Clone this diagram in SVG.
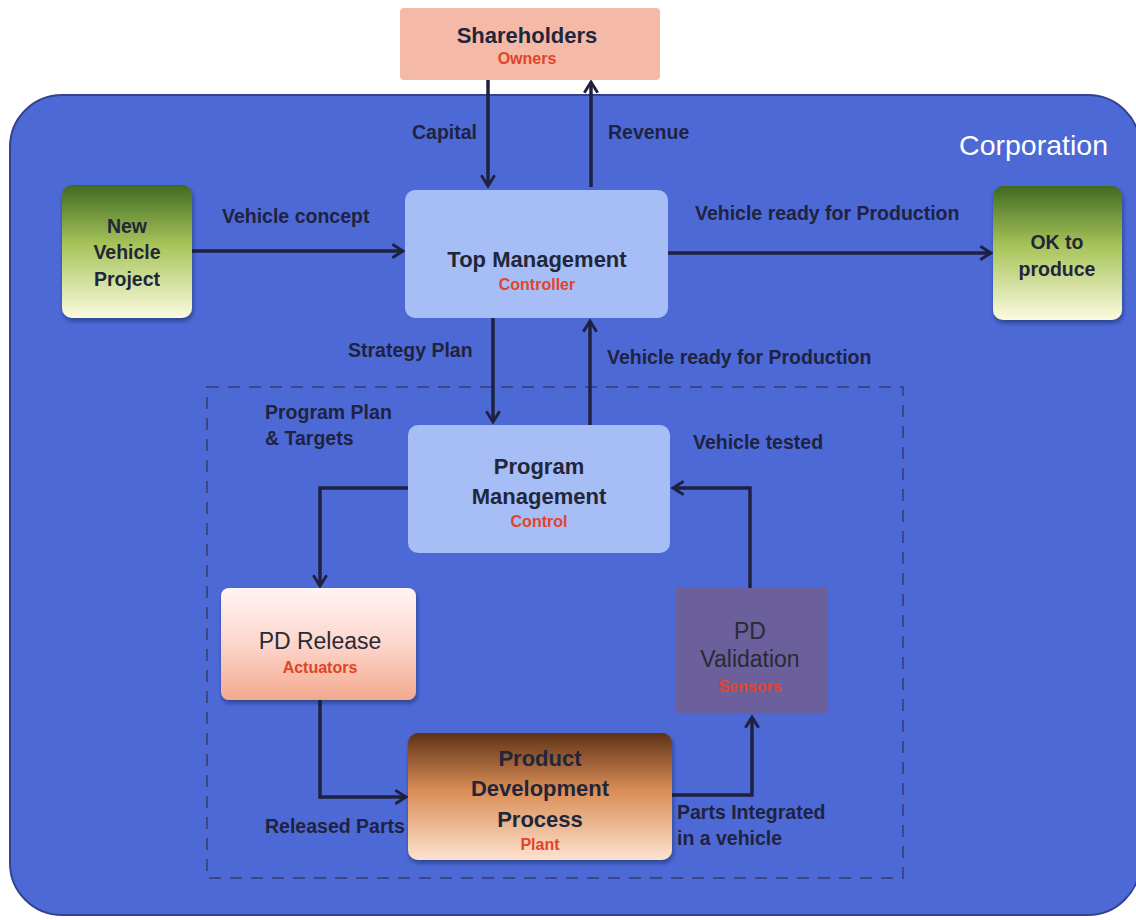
<svg xmlns="http://www.w3.org/2000/svg" width="1136" height="920" viewBox="0 0 1136 920">
  <defs>
    <style>
      .lbl { font-family: "Liberation Sans", Arial, sans-serif; font-weight: bold; font-size: 19.5px; fill: #1f2340; }
      .title { font-family: "Liberation Sans", Arial, sans-serif; font-weight: bold; font-size: 22px; fill: #22263a; text-anchor: middle; }
      .small { font-size: 19.5px; }
      .plain { font-family: "Liberation Sans", Arial, sans-serif; font-size: 23px; fill: #2a2a35; text-anchor: middle; }
      .sub { font-family: "Liberation Sans", Arial, sans-serif; font-weight: bold; font-size: 16px; fill: #e0452a; text-anchor: middle; }
      .conn { fill: none; stroke: #1e2240; stroke-width: 3.5; marker-end: url(#arr); }
    </style>
    <marker id="arr" viewBox="0 0 12 12" refX="10" refY="6" markerWidth="16" markerHeight="16" markerUnits="userSpaceOnUse" orient="auto">
      <path d="M2,1 L10,6 L2,11" fill="none" stroke="#1e2240" stroke-width="2.2" stroke-linejoin="miter"/>
    </marker>
    <linearGradient id="gGreen" x1="0" y1="0" x2="0" y2="1">
      <stop offset="0" stop-color="#3f6a22"/>
      <stop offset="0.45" stop-color="#a8c45a"/>
      <stop offset="1" stop-color="#fbfbe0"/>
    </linearGradient>
    <linearGradient id="gPink" x1="0" y1="0" x2="0" y2="1">
      <stop offset="0" stop-color="#fff4f4"/>
      <stop offset="0.5" stop-color="#fcd6cc"/>
      <stop offset="1" stop-color="#f4a98e"/>
    </linearGradient>
    <linearGradient id="gBrown" x1="0" y1="0" x2="0" y2="1">
      <stop offset="0" stop-color="#5e3216"/>
      <stop offset="0.45" stop-color="#d98d55"/>
      <stop offset="1" stop-color="#fde2cf"/>
    </linearGradient>
    <filter id="shadow" x="-10%" y="-10%" width="125%" height="130%">
      <feDropShadow dx="1" dy="3" stdDeviation="2" flood-color="#10183a" flood-opacity="0.45"/>
    </filter>
  </defs>

  <rect width="1136" height="920" fill="#ffffff"/>

  <!-- corporation boundary -->
  <g id="corporation">
    <rect x="10" y="95" width="1130" height="820" rx="52" fill="#4d69d6" stroke="#33438f" stroke-width="2"/>
    <text x="1108" y="155" text-anchor="end" font-family="Liberation Sans, Arial, sans-serif" font-size="28.5" fill="#ffffff">Corporation</text>
  </g>

  <!-- product development boundary -->
  <rect id="pd-boundary" x="207" y="387" width="696" height="491" fill="none" stroke="#3a4788" stroke-width="2" stroke-dasharray="12,9"/>

  <!-- connectors -->
  <g id="connectors">
    <line class="conn" x1="488" y1="80" x2="488" y2="186"/>
    <line class="conn" x1="591" y1="187" x2="591" y2="82"/>
    <line class="conn" x1="192" y1="251" x2="403" y2="251"/>
    <line class="conn" x1="668" y1="253" x2="991" y2="253"/>
    <line class="conn" x1="493" y1="318" x2="493" y2="422"/>
    <line class="conn" x1="590" y1="425" x2="590" y2="321"/>
    <polyline class="conn" points="408,488 320,488 320,586"/>
    <polyline class="conn" points="750,588 750,488 673,488"/>
    <polyline class="conn" points="320,700 320,797 406,797"/>
    <polyline class="conn" points="672,795 752,795 752,717"/>

    <text class="lbl" x="412" y="139">Capital</text>
    <text class="lbl" x="608" y="139">Revenue</text>
    <text class="lbl" x="222" y="223">Vehicle concept</text>
    <text class="lbl" x="695" y="220">Vehicle ready for Production</text>
    <text class="lbl" x="348" y="357">Strategy Plan</text>
    <text class="lbl" x="607" y="364">Vehicle ready for Production</text>
    <text class="lbl" x="265" y="419">Program Plan</text>
    <text class="lbl" x="265" y="445">&amp; Targets</text>
    <text class="lbl" x="693" y="449">Vehicle tested</text>
    <text class="lbl" x="265" y="833">Released Parts</text>
    <text class="lbl" x="677" y="819">Parts Integrated</text>
    <text class="lbl" x="677" y="845">in a vehicle</text>
  </g>

  <g id="shareholders">
    <rect x="400" y="8" width="260" height="72" rx="4" fill="#f5b9a8"/>
    <text class="title" x="527" y="43">Shareholders</text>
    <text class="sub" x="527" y="64" font-size="15">Owners</text>
  </g>

  <g id="new-vehicle-project">
    <rect x="62" y="185" width="130" height="133" rx="10" fill="url(#gGreen)" filter="url(#shadow)"/>
    <text class="title small" x="127" y="233">New</text>
    <text class="title small" x="127" y="259">Vehicle</text>
    <text class="title small" x="127" y="286">Project</text>
  </g>

  <g id="top-management">
    <rect x="405" y="190" width="263" height="128" rx="10" fill="#a6bdf5"/>
    <text class="title" x="537" y="267">Top Management</text>
    <text class="sub" x="537" y="290">Controller</text>
  </g>

  <g id="ok-to-produce">
    <rect x="993" y="186" width="129" height="134" rx="10" fill="url(#gGreen)" filter="url(#shadow)"/>
    <text class="title small" x="1057" y="249">OK to</text>
    <text class="title small" x="1057" y="276">produce</text>
  </g>

  <g id="program-management">
    <rect x="408" y="425" width="262" height="128" rx="10" fill="#a6bdf5"/>
    <text class="title" x="539" y="474">Program</text>
    <text class="title" x="539" y="504">Management</text>
    <text class="sub" x="539" y="527">Control</text>
  </g>

  <g id="pd-release">
    <rect x="221" y="588" width="195" height="112" rx="8" fill="url(#gPink)" filter="url(#shadow)"/>
    <text class="plain" x="320" y="649">PD Release</text>
    <text class="sub" x="320" y="673" font-size="17" fill="#ef5a2e">Actuators</text>
  </g>

  <g id="pd-validation">
    <rect x="676" y="588" width="151" height="126" fill="#6b609c"/>
    <text class="plain" x="750" y="639" font-size="25" fill="#34304a">PD</text>
    <text class="plain" x="750" y="667" font-size="25" fill="#34304a">Validation</text>
    <text class="sub" x="750" y="692" font-size="14.5" fill="#c04030">Sensors</text>
  </g>

  <g id="product-development-process">
    <rect x="408" y="733" width="264" height="127" rx="10" fill="url(#gBrown)" filter="url(#shadow)"/>
    <text class="title" x="540" y="766" fill="#4a3020">Product</text>
    <text class="title" x="540" y="796">Development</text>
    <text class="title" x="540" y="827">Process</text>
    <text class="sub" x="540" y="850" font-size="13">Plant</text>
  </g>
</svg>
